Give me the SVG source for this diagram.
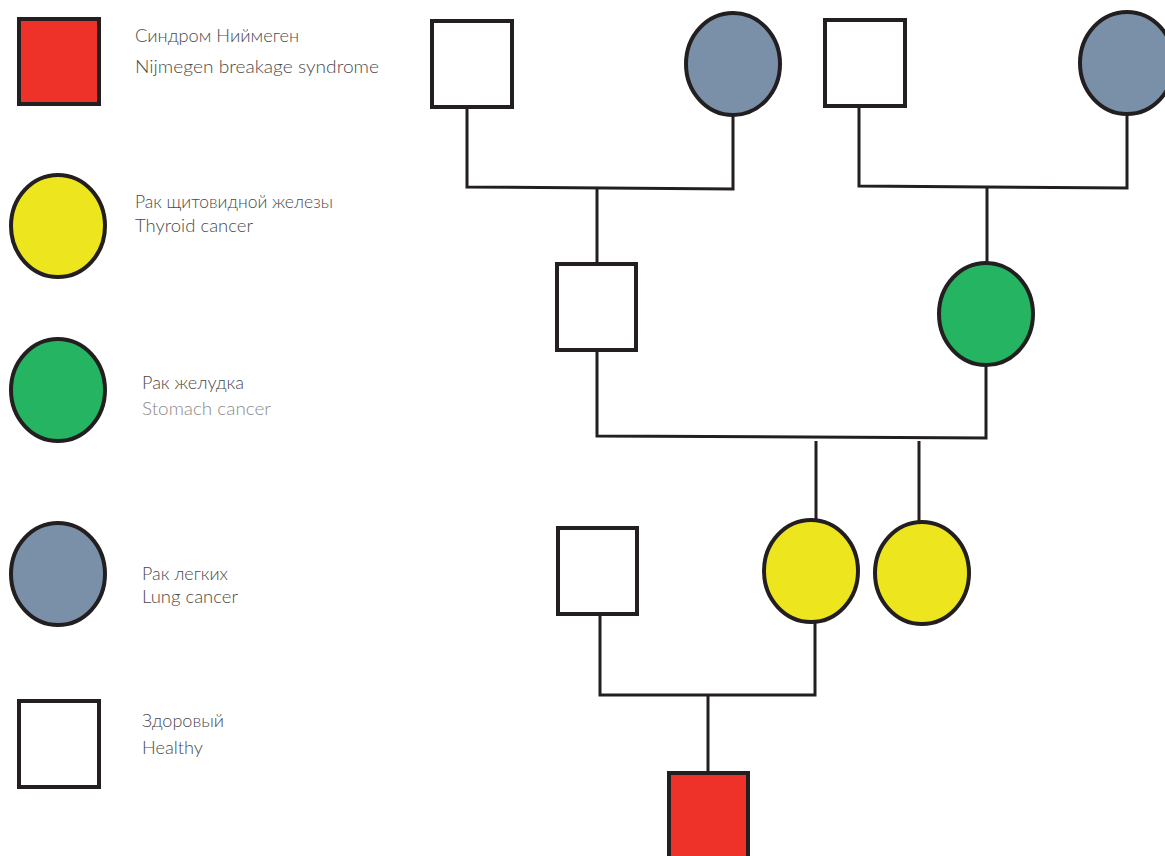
<svg xmlns="http://www.w3.org/2000/svg" width="1165" height="856" viewBox="0 0 1165 856">
<style>
.sh{stroke:#231F20;stroke-width:4}
.ln{stroke:#231F20;stroke-width:3;fill:none}
.t{font-family:"Lato","Liberation Sans",sans-serif;font-weight:300;font-size:17px;fill:#4a4a4a}
.t2{fill:#8a8a8a}
.red{fill:#EE3129}.yel{fill:#EDE61F}.grn{fill:#25B461}.blu{fill:#7A90A8}.wht{fill:#fff}
</style>
<rect width="1165" height="856" fill="#fff"/>
<g id="legend-nbs">
<rect class="sh red" x="19" y="19" width="80" height="85"/>
<text class="t" x="135" y="42" textLength="164" lengthAdjust="spacingAndGlyphs">Синдром Ниймеген</text>
<text class="t" x="135" y="73" textLength="244" lengthAdjust="spacingAndGlyphs">Nijmegen breakage syndrome</text>
</g>
<g id="legend-thyroid">
<ellipse class="sh yel" cx="58" cy="226" rx="47" ry="51"/>
<text class="t" x="135" y="208" textLength="198" lengthAdjust="spacingAndGlyphs">Рак щитовидной железы</text>
<text class="t" x="135" y="232" textLength="118" lengthAdjust="spacingAndGlyphs">Thyroid cancer</text>
</g>
<g id="legend-stomach">
<ellipse class="sh grn" cx="58" cy="390" rx="47" ry="51"/>
<text class="t" x="142" y="389" textLength="102" lengthAdjust="spacingAndGlyphs">Рак желудка</text>
<text class="t t2" x="142" y="415" textLength="129" lengthAdjust="spacingAndGlyphs">Stomach cancer</text>
</g>
<g id="legend-lung">
<ellipse class="sh blu" cx="58" cy="574" rx="47" ry="51"/>
<text class="t" x="142" y="580" textLength="86" lengthAdjust="spacingAndGlyphs">Рак легких</text>
<text class="t" x="142" y="603" textLength="96" lengthAdjust="spacingAndGlyphs">Lung cancer</text>
</g>
<g id="legend-healthy">
<rect class="sh wht" x="19" y="701" width="80" height="86"/>
<text class="t" x="142" y="727" textLength="82" lengthAdjust="spacingAndGlyphs">Здоровый</text>
<text class="t" x="142" y="754" textLength="61" lengthAdjust="spacingAndGlyphs">Healthy</text>
</g>
<g id="connectors">
<polyline class="ln" points="467,108 467,187 733,189 733,116"/>
<line class="ln" x1="597" y1="188" x2="597" y2="263"/>
<polyline class="ln" points="859,106 859,186 1127,188 1127,114"/>
<line class="ln" x1="987" y1="187" x2="987" y2="262"/>
<polyline class="ln" points="597,351 597,436 986,438 986,366"/>
<line class="ln" x1="816" y1="441" x2="816" y2="520"/>
<line class="ln" x1="919" y1="441" x2="919" y2="522"/>
<polyline class="ln" points="600,615 600,695 815,695 815,623"/>
<line class="ln" x1="708" y1="695" x2="708" y2="773"/>
</g>
<g id="gp1-male"><rect class="sh wht" x="432" y="21" width="80" height="86"/></g>
<g id="gp1-female"><ellipse class="sh blu" cx="733" cy="64" rx="47" ry="51"/></g>
<g id="gp2-male"><rect class="sh wht" x="825" y="20" width="80" height="86"/></g>
<g id="gp2-female"><ellipse class="sh blu" cx="1127" cy="63" rx="47" ry="51"/></g>
<g id="father-of-mother"><rect class="sh wht" x="557" y="264" width="79" height="86"/></g>
<g id="mother-of-mother"><ellipse class="sh grn" cx="986" cy="314" rx="47" ry="51"/></g>
<g id="father"><rect class="sh wht" x="558" y="528" width="79" height="86"/></g>
<g id="mother"><ellipse class="sh yel" cx="811" cy="571" rx="47" ry="51"/></g>
<g id="aunt"><ellipse class="sh yel" cx="922" cy="573" rx="47" ry="51"/></g>
<g id="proband"><rect class="sh red" x="669" y="773" width="79" height="90"/></g>
</svg>
